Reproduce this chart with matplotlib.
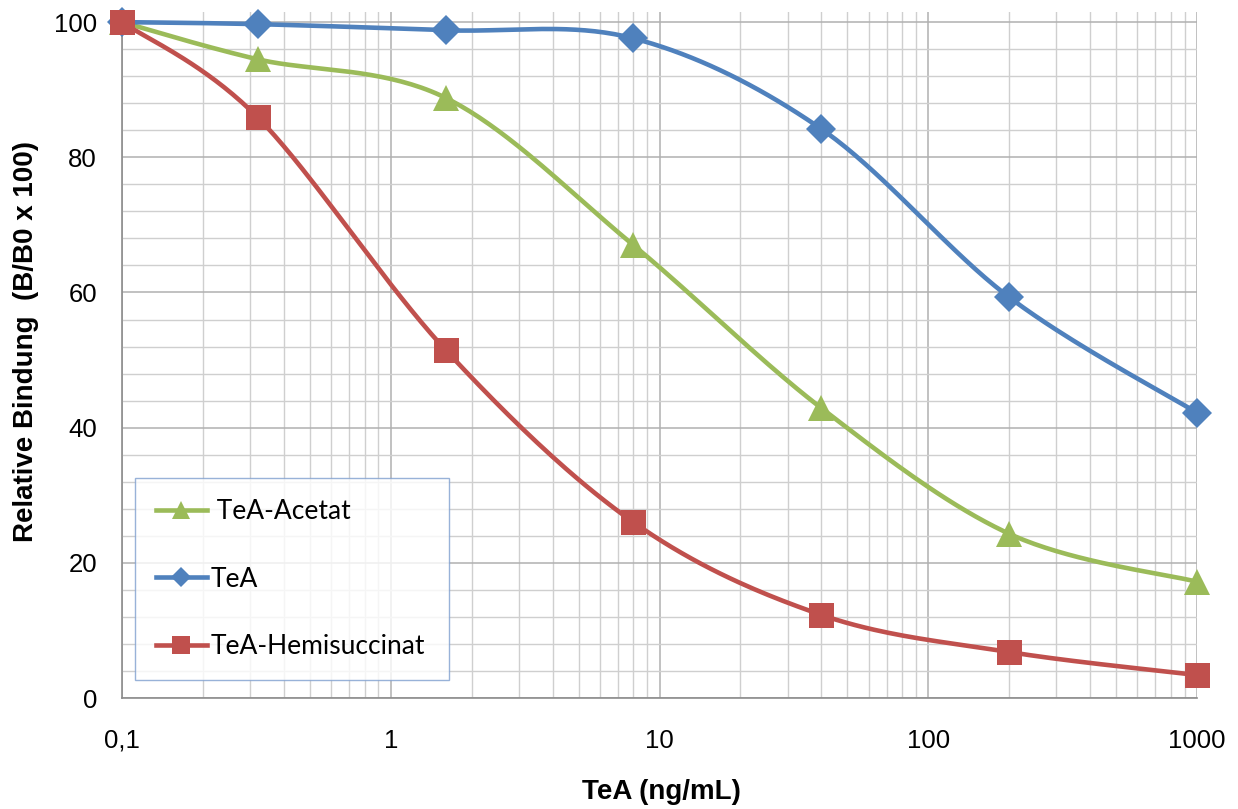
import numpy as np
import matplotlib
matplotlib.use("Agg")
import matplotlib.pyplot as plt
from matplotlib.ticker import FixedLocator, LogLocator, NullFormatter, FixedFormatter, MultipleLocator

# Concentrations (ng/mL) and relative binding values
conc = [0.1, 0.32, 1.6, 8, 40, 200, 1000]
tea = [100.0, 99.7, 98.8, 97.6, 84.2, 59.3, 42.2]
tea_acetat = [100.0, 94.5, 88.8, 67.0, 42.9, 24.3, 17.2]
tea_hemisuccinat = [100.0, 85.9, 51.5, 26.0, 12.3, 6.8, 3.4]

x_tick_values = [0.1, 1, 10, 100, 1000]
x_tick_labels = ["0,1", "1", "10", "100", "1000"]

BLUE = "#4F81BD"
RED = "#C0504D"
GREEN = "#9BBB59"


def smooth(xs, ys, n=40):
    """Catmull-Rom style smoothing in (log10 x, y) space."""
    lx = np.log10(np.asarray(xs, float))
    yy = np.asarray(ys, float)
    pts = np.column_stack([lx, yy])
    out = []
    for i in range(len(pts) - 1):
        p0 = pts[i - 1] if i > 0 else pts[i]
        p1 = pts[i]
        p2 = pts[i + 1]
        p3 = pts[i + 2] if i + 2 < len(pts) else pts[i + 1]
        c1 = p1 + (p2 - p0) / 6.0
        c2 = p2 - (p3 - p1) / 6.0
        t = np.linspace(0, 1, n)[:, None]
        seg = ((1 - t) ** 3) * p1 + 3 * ((1 - t) ** 2) * t * c1 + 3 * (1 - t) * t ** 2 * c2 + t ** 3 * p2
        out.append(seg if i == 0 else seg[1:])
    seg = np.vstack(out)
    return 10 ** seg[:, 0], seg[:, 1]


plt.rcParams["font.family"] = ["Liberation Sans", "DejaVu Sans"]

fig = plt.figure(figsize=(12.38, 8.09), dpi=100)
ax = fig.add_axes([122 / 1238, 1 - 698 / 809, (1197 - 122) / 1238, (698 - 12) / 809])

ax.set_xscale("log")
ax.set_xlim(0.1, 1000)
ax.set_ylim(0, 101.5)

# grid
ax.xaxis.set_major_locator(FixedLocator(x_tick_values))
ax.xaxis.set_major_formatter(FixedFormatter(x_tick_labels))
ax.xaxis.set_minor_locator(LogLocator(base=10, subs=np.arange(2, 10)))
ax.xaxis.set_minor_formatter(NullFormatter())
ax.yaxis.set_major_locator(FixedLocator([0, 20, 40, 60, 80, 100]))
ax.yaxis.set_minor_locator(MultipleLocator(4))
ax.grid(which="major", color="#B0B0B0", linewidth=1.1)
ax.grid(which="minor", color="#CFCFCF", linewidth=1.0)
ax.set_axisbelow(True)
for s in ["top", "right"]:
    ax.spines[s].set_visible(False)
for s in ["left", "bottom"]:
    ax.spines[s].set_color("#8C8C8C")
    ax.spines[s].set_linewidth(1.2)
ax.tick_params(which="both", length=0)
ax.tick_params(axis="y", labelsize=18.5, pad=18)
ax.tick_params(axis="x", labelsize=18.5, pad=22)

series = [
    (tea_acetat, GREEN, "^", 19, " TeA-Acetat"),
    (tea, BLUE, "D", 15, "TeA"),
    (tea_hemisuccinat, RED, "s", 18, "TeA-Hemisuccinat"),
]
handles = []
for ys, col, mk, ms, lab in series:
    sx, sy = smooth(conc, ys)
    ax.plot(sx, sy, color=col, linewidth=3.3, solid_capstyle="round", zorder=3, clip_on=False)
    ax.plot(conc, ys, linestyle="none", marker=mk, markersize=ms, color=col,
            markeredgewidth=0, zorder=4, clip_on=False)
    h, = ax.plot([], [], color=col, linewidth=3.3, marker=mk, markersize=ms * 0.7,
                 markeredgewidth=0, label=lab)
    handles.append(h)

leg = ax.legend(handles=handles, loc="lower left",
                bbox_to_anchor=((135 - 122) / (1197 - 122), (698 - 680) / 686,
                                (449 - 135) / (1197 - 122), (680 - 476) / 686),
                mode="expand", frameon=True, fancybox=False, borderaxespad=0,
                prop={"family": ["Lato", "DejaVu Sans"], "size": 19},
                labelspacing=1.62, handlelength=1.95, handletextpad=0.12,
                borderpad=0.78)
leg.get_frame().set_edgecolor("#7F9FCF")
leg.get_frame().set_linewidth(1.0)

ax.set_xlabel("TeA (ng/mL)", fontsize=20, fontweight="bold")
ax.set_ylabel("Relative Bindung  (B/B0 x 100)", fontsize=20, fontweight="bold")
ax.xaxis.label.set_va("center")
ax.yaxis.label.set_va("center")
ax.xaxis.set_label_coords((661 - 122) / (1197 - 122), -(792 - 698) / 686)
ax.yaxis.set_label_coords(-(122 - 26) / (1197 - 122), (698 - 342) / 686)

fig.savefig("out.png", dpi=100)
